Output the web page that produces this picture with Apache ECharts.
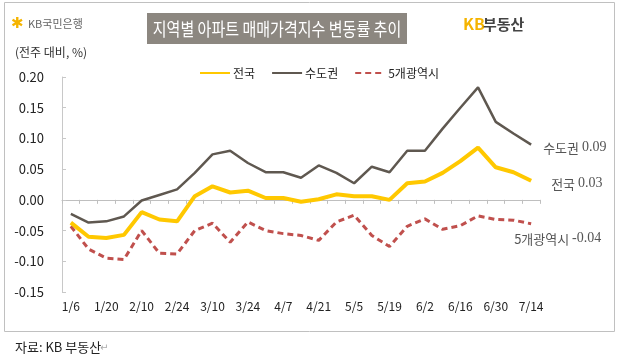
<!DOCTYPE html>
<html><head><meta charset="utf-8">
<script src="https://cdn.jsdelivr.net/npm/echarts@6/dist/echarts.min.js"></script>
<style>html,body{margin:0;padding:0;background:#fff}#c{width:618px;height:364px}</style>
</head><body><div id="c"></div>
<script>
const categories = ['1/6','1/13','1/20','2/3','2/10','2/17','2/24','3/3','3/10','3/17','3/24','3/31','4/7','4/14','4/21','4/28','5/5','5/12','5/19','5/26','6/2','6/9','6/16','6/23','6/30','7/7','7/14'];
const nationwide = [-0.037,-0.060,-0.062,-0.057,-0.020,-0.032,-0.035,0.006,0.022,0.012,0.015,0.003,0.003,-0.003,0.001,0.009,0.006,0.006,0.000,0.027,0.030,0.044,0.063,0.085,0.053,0.045,0.031];
const capital = [-0.023,-0.037,-0.035,-0.027,-0.001,0.008,0.017,0.044,0.074,0.080,0.060,0.045,0.045,0.036,0.056,0.044,0.027,0.054,0.045,0.080,0.080,0.116,0.150,0.183,0.127,0.108,0.090];
const metro5 = [-0.043,-0.080,-0.095,-0.097,-0.050,-0.087,-0.088,-0.050,-0.038,-0.069,-0.036,-0.050,-0.055,-0.058,-0.066,-0.036,-0.025,-0.058,-0.076,-0.043,-0.031,-0.048,-0.042,-0.026,-0.032,-0.033,-0.039];
const seriesNames = ['전국','수도권','5개광역시'];
const yMin = -0.15, yMax = 0.20, yStep = 0.05;

const FONT = '"Noto Sans CJK KR","Noto Sans",sans-serif';
const chart = echarts.init(document.getElementById('c'));
const endLbl = (offset) => ({
  show: true, offset: offset, color: '#555', fontSize: 13, fontFamily: FONT,
  formatter: p => '{a|' + p.seriesName + '} {b|' + Number(p.value).toFixed(2) + '}',
  rich: { a: {fontFamily: FONT, fontSize: 13, color: '#555'}, b: {fontFamily: '"Liberation Serif",serif', fontSize: 14, color: '#555'} }
});
chart.setOption({
  animation: false,
  backgroundColor: '#fff',
  textStyle: {fontFamily: FONT},
  grid: {left: 62, right: 78, top: 77, bottom: 72, containLabel: false},
  legend: {
    left: 194, top: 62, itemWidth: 30, itemHeight: 12, itemGap: 16,
    itemStyle: {opacity: 0},
    textStyle: {fontSize: 12, color: '#222', fontFamily: FONT, padding: [0, 0, 0, -2]},
    data: seriesNames
  },
  xAxis: [{
    type: 'category', data: categories, boundaryGap: true, position: 'bottom',
    axisLine: {show: false, onZero: false}, axisTick: {show: false},
    axisLabel: {interval: 1, fontSize: 12, color: '#222', margin: 8, fontFamily: FONT}
  }, {
    type: 'category', data: categories, boundaryGap: true, position: 'bottom',
    axisLine: {show: true, onZero: true, lineStyle: {color: '#bfbfbf', width: 1}},
    axisTick: {show: true, interval: 0, length: 4, lineStyle: {color: '#bfbfbf'}},
    axisLabel: {show: false}
  }],
  yAxis: {
    type: 'value', min: yMin, max: yMax, interval: yStep,
    axisLine: {show: true, lineStyle: {color: '#c8c8c8'}},
    axisTick: {show: true, inside: true, length: 4, lineStyle: {color: '#c8c8c8'}},
    splitLine: {show: false},
    axisLabel: {formatter: v => v.toFixed(2), fontSize: 13, color: '#222', margin: 18, fontFamily: FONT}
  },
  series: [
    {name: seriesNames[1], type: 'line', data: capital, symbol: 'none', z: 3,
     lineStyle: {color: '#5f5850', width: 2.5}, itemStyle: {color: '#5f5850'}, endLabel: endLbl([4, 3])},
    {name: seriesNames[0], type: 'line', data: nationwide, symbol: 'none', z: 4,
     lineStyle: {color: '#ffc800', width: 4}, itemStyle: {color: '#ffc800'}, endLabel: endLbl([12, 3])},
    {name: seriesNames[2], type: 'line', data: metro5, symbol: 'none', z: 2,
     lineStyle: {color: '#c0504d', width: 3, type: [6, 4]}, itemStyle: {color: '#c0504d'}, endLabel: endLbl([-25, 15])}
  ],
  graphic: [
    {type: 'rect', shape: {x: 4.5, y: 2.5, width: 610, height: 329}, style: {fill: 'none', stroke: '#c0c0c0', lineWidth: 1}, z: -1},
    {type: 'rect', shape: {x: 147, y: 13, width: 260, height: 31}, style: {fill: '#8c8780'}},
    {type: 'group', x: 277, y: 29, scaleX: 0.835, children: [
      {type: 'text', x: 0, y: 0, style: {text: '지역별 아파트 매매가격지수 변동률 추이', fill: '#fff', font: '18px ' + FONT, textAlign: 'center', textVerticalAlign: 'middle'}}
    ]},
    {type: 'text', x: 11, y: 24, style: {text: '✱', fill: '#f5b400', font: 'bold 15px "DejaVu Sans"', textVerticalAlign: 'middle'}},
    {type: 'text', x: 28, y: 24, style: {text: 'KB국민은행', fill: '#666', font: '11px ' + FONT, textVerticalAlign: 'middle'}},
    {type: 'text', x: 463, y: 24, style: {text: 'KB', fill: '#f5b400', font: 'bold 16px ' + FONT, textVerticalAlign: 'middle'}},
    {type: 'text', x: 483, y: 24, style: {text: '부동산', fill: '#444', font: 'bold 15px ' + FONT, textVerticalAlign: 'middle'}},
    {type: 'text', x: 15, y: 52, style: {text: '(전주 대비, %)', fill: '#333', font: '12px ' + FONT, textVerticalAlign: 'middle'}},
    {type: 'text', x: 15, y: 347, style: {text: '자료: KB 부동산', fill: '#222', font: '13px ' + FONT, textVerticalAlign: 'middle'}},
    {type: 'text', x: 100, y: 348, style: {text: '↵', fill: '#aaa', font: '10px "DejaVu Sans"', textVerticalAlign: 'middle'}}
  ]
});
</script></body></html>
